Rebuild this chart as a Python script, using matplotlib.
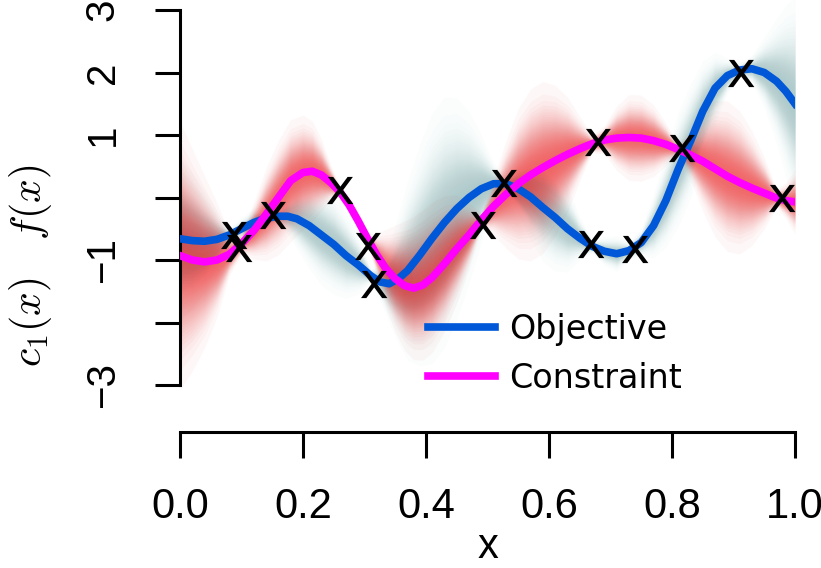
import numpy as np
import matplotlib
matplotlib.use("Agg")
import matplotlib.pyplot as plt
from matplotlib.path import Path
from matplotlib.textpath import TextPath
from matplotlib.font_manager import FontProperties

plt.rcParams['font.family'] = ['Liberation Sans', 'DejaVu Sans']
plt.rcParams['mathtext.fontset'] = 'cm'

# objective mean and sd
obj_x = [0.0, 0.02, 0.04, 0.06, 0.08, 0.10, 0.12, 0.14, 0.16, 0.175,
         0.19, 0.21, 0.23, 0.25, 0.27, 0.29, 0.31, 0.325, 0.34, 0.355,
         0.37, 0.39, 0.41, 0.43, 0.45, 0.47, 0.49, 0.51, 0.53, 0.55,
         0.57, 0.59, 0.61, 0.63, 0.65, 0.67, 0.69, 0.71, 0.73, 0.75,
         0.77, 0.79, 0.81, 0.83, 0.85, 0.87, 0.89, 0.91, 0.93, 0.95,
         0.97, 0.985, 1.0]
obj_mu = [-0.66, -0.69, -0.70, -0.67, -0.60, -0.50, -0.40, -0.33, -0.30, -0.30,
          -0.34, -0.45, -0.60, -0.75, -0.93, -1.08, -1.25, -1.35, -1.38, -1.30,
          -1.17, -0.92, -0.65, -0.40, -0.18, 0.00, 0.14, 0.22, 0.22, 0.14,
          0.01, -0.16, -0.32, -0.50, -0.65, -0.78, -0.86, -0.90, -0.85, -0.72,
          -0.45, -0.05, 0.45, 0.90, 1.38, 1.75, 1.95, 2.04, 2.06, 2.00,
          1.86, 1.70, 1.50]
obj_sd = [0.45, 0.38, 0.28, 0.16, 0.04, 0.06, 0.09, 0.04, 0.04, 0.10,
          0.17, 0.24, 0.28, 0.28, 0.24, 0.16, 0.04, 0.10, 0.22, 0.36,
          0.50, 0.62, 0.70, 0.70, 0.62, 0.48, 0.30, 0.12, 0.04, 0.14,
          0.24, 0.30, 0.30, 0.24, 0.12, 0.04, 0.08, 0.10, 0.05, 0.08,
          0.18, 0.26, 0.32, 0.32, 0.28, 0.20, 0.10, 0.04, 0.08, 0.20,
          0.35, 0.48, 0.60]

# constraint mean and sd
con_x = [0.0, 0.02, 0.04, 0.06, 0.08, 0.10, 0.12, 0.14, 0.16, 0.18,
         0.20, 0.215, 0.23, 0.245, 0.26, 0.275, 0.29, 0.305, 0.32, 0.335,
         0.35, 0.365, 0.38, 0.395, 0.41, 0.43, 0.45, 0.47, 0.49, 0.51,
         0.53, 0.55, 0.57, 0.59, 0.61, 0.63, 0.65, 0.67, 0.69, 0.71,
         0.73, 0.75, 0.77, 0.79, 0.81, 0.83, 0.85, 0.87, 0.89, 0.91,
         0.93, 0.95, 0.97, 0.985, 1.0]
con_mu = [-0.93, -1.00, -1.03, -1.00, -0.91, -0.74, -0.53, -0.27, 0.00, 0.27,
          0.40, 0.42, 0.36, 0.24, 0.09, -0.12, -0.38, -0.66, -0.92, -1.14,
          -1.30, -1.41, -1.45, -1.40, -1.28, -1.06, -0.82, -0.60, -0.36, -0.14,
          0.05, 0.22, 0.36, 0.48, 0.59, 0.69, 0.78, 0.86, 0.92, 0.95,
          0.96, 0.95, 0.91, 0.85, 0.77, 0.68, 0.58, 0.46, 0.34, 0.24,
          0.15, 0.07, -0.01, -0.05, -0.07]
con_sd = [0.75, 0.62, 0.48, 0.32, 0.12, 0.06, 0.16, 0.26, 0.32, 0.34,
          0.32, 0.28, 0.20, 0.10, 0.03, 0.05, 0.05, 0.03, 0.12, 0.22,
          0.30, 0.36, 0.40, 0.42, 0.42, 0.38, 0.30, 0.18, 0.04, 0.16,
          0.30, 0.42, 0.48, 0.48, 0.42, 0.32, 0.18, 0.05, 0.08, 0.18,
          0.24, 0.24, 0.20, 0.12, 0.03, 0.14, 0.28, 0.38, 0.42, 0.40,
          0.32, 0.20, 0.05, 0.10, 0.18]

# observed points
obj_px = [0.086, 0.150, 0.314, 0.525, 0.667, 0.738, 0.911]
obj_py = [-0.60, -0.28, -1.38, 0.23, -0.74, -0.82, 2.00]
con_px = [0.094, 0.259, 0.304, 0.491, 0.678, 0.815, 0.977]
con_py = [-0.81, 0.12, -0.78, -0.44, 0.89, 0.79, 0.00]

fig = plt.figure(figsize=(8.21, 5.68), dpi=100)
ax = fig.add_axes([180/821, 1 - 395/568, 615/821, 395/568])


def glow(x, mu, sd, color, a, n=30):
    x = np.asarray(x)
    mu = np.asarray(mu)
    sd = np.asarray(sd)
    for k in range(1, n + 1):
        w = np.sqrt(2 * np.log((n + 0.5) / (k - 0.5)))
        ax.fill_between(x, mu - w * sd, mu + w * sd, color=color,
                        alpha=a, lw=0, zorder=1)


glow(obj_x, obj_mu, obj_sd, '#5f9ea0', 0.02)
glow(con_x, con_mu, con_sd, '#f01818', 0.03)

ax.plot(obj_x, obj_mu, color='#0057d8', lw=5.5, zorder=3,
        solid_joinstyle='round', label='Objective')
ax.plot(con_x, con_mu, color='#ff00ff', lw=5.5, zorder=4,
        solid_joinstyle='round', label='Constraint')

# lowercase "x" glyph as marker, centred on the point
tp = TextPath((0, 0), 'x', prop=FontProperties(family='DejaVu Sans'))
v = tp.vertices
v = v - (v.min(axis=0) + v.max(axis=0)) / 2
xmark = Path(v, tp.codes)
ax.scatter(obj_px + con_px, obj_py + con_py, marker=xmark, s=20**2,
           color='black', linewidths=0, zorder=5)

ax.set_xlim(0, 1)
ax.set_ylim(-3.16, 3.16)

for s in ['top', 'right']:
    ax.spines[s].set_visible(False)
ax.spines['left'].set_bounds(-3, 3)
ax.spines['bottom'].set_bounds(0, 1)
ax.spines['bottom'].set_position(('outward', 26.6))
ax.spines['left'].set_linewidth(2.2)
ax.spines['bottom'].set_linewidth(2.2)

ax.set_xticks([0, 0.2, 0.4, 0.6, 0.8, 1.0])
ax.set_xticklabels(['0.0', '0.2', '0.4', '0.6', '0.8', '1.0'])
ax.set_yticks([-3, -2, -1, 0, 1, 2, 3])
ax.set_yticklabels(['\u22123', '', '\u22121', '', '1', '2', '3'],
                   rotation=90, va='center')
ax.tick_params(axis='x', length=18.7, width=2.2, pad=21, labelsize=30)
ax.tick_params(axis='y', length=18, width=2.2, pad=24, labelsize=29)

ax.set_xlabel('x', fontsize=30, labelpad=0)
fig.text(30/821, 1 - 266/568, r'$c_1(x)\quad f(x)$', fontsize=30,
         rotation=90, ha='center', va='center')

ax.legend(loc='upper left', bbox_to_anchor=(428/821, 1 - 313/568),
          bbox_transform=fig.transFigure, frameon=False, borderpad=0,
          borderaxespad=0, handlelength=2.0, handletextpad=0.42,
          labelspacing=0.48, prop={'family': 'DejaVu Sans', 'size': 24})

fig.savefig('out.png', dpi=100)
